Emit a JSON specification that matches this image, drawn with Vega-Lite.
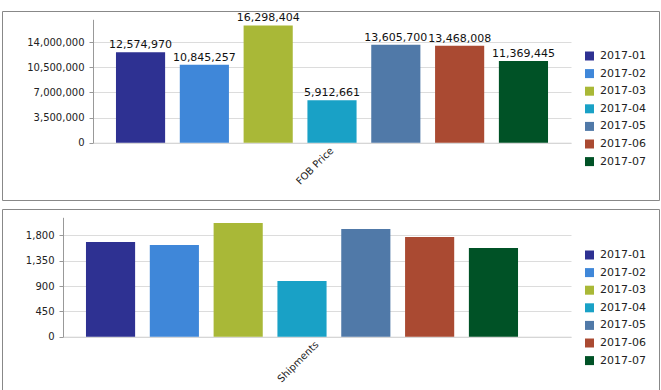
{
  "$schema": "https://vega.github.io/schema/vega-lite/v6.json",
  "padding": {"left": 1, "top": 10, "right": 0, "bottom": 0},
  "spacing": 7,
  "datasets": {
    "fob": [
      {"measure": "FOB Price", "month": "2017-01", "value": 12574970},
      {"measure": "FOB Price", "month": "2017-02", "value": 10845257},
      {"measure": "FOB Price", "month": "2017-03", "value": 16298404},
      {"measure": "FOB Price", "month": "2017-04", "value": 5912661},
      {"measure": "FOB Price", "month": "2017-05", "value": 13605700},
      {"measure": "FOB Price", "month": "2017-06", "value": 13468008},
      {"measure": "FOB Price", "month": "2017-07", "value": 11369445}
    ],
    "ship": [
      {"measure": "Shipments", "month": "2017-01", "value": 1681},
      {"measure": "Shipments", "month": "2017-02", "value": 1628},
      {"measure": "Shipments", "month": "2017-03", "value": 2018},
      {"measure": "Shipments", "month": "2017-04", "value": 989},
      {"measure": "Shipments", "month": "2017-05", "value": 1912},
      {"measure": "Shipments", "month": "2017-06", "value": 1770},
      {"measure": "Shipments", "month": "2017-07", "value": 1575}
    ]
  },
  "vconcat": [
    {
      "width": 657,
      "height": 189,
      "data": {"name": "fob"},
      "encoding": {
        "x": {
          "field": "measure", "type": "nominal",
          "scale": {"range": [91, 569], "paddingInner": 0, "paddingOuter": 0},
          "axis": {"title": null, "ticks": false, "labelAngle": -45, "labelAlign": "right", "labelBaseline": "middle", "labelPadding": 6, "domainColor": "#d4d4d4", "grid": false, "offset": -57.3}
        },
        "xOffset": {
          "field": "month", "type": "nominal",
          "scale": {"paddingInner": 0.23, "paddingOuter": 0.36}
        },
        "y": {
          "field": "value", "type": "quantitative",
          "scale": {"domain": [0, 17160000], "range": [131.7, 8.3], "nice": false, "zero": true},
          "axis": {"title": null, "values": [0, 3500000, 7000000, 10500000, 14000000], "format": ",d", "tickSize": 4, "labelPadding": 5, "offset": -91, "grid": true}
        }
      },
      "layer": [
        {
          "mark": {"type": "bar"},
          "encoding": {
            "color": {
              "field": "month", "type": "nominal",
              "scale": {"range": ["#2e3192", "#3f87d9", "#a9b837", "#19a1c6", "#5079a8", "#aa4a32", "#005226"]},
              "legend": {"orient": "none", "legendX": 582, "legendY": 39.5, "title": null}
            }
          }
        },
        {
          "mark": {"type": "text", "dy": -4, "baseline": "alphabetic", "font": "DejaVu Sans", "fontSize": 11, "color": "#111", "clip": true},
          "encoding": {"text": {"field": "value", "type": "quantitative", "format": ","}}
        }
      ]
    },
    {
      "width": 657,
      "height": 181,
      "data": {"name": "ship"},
      "encoding": {
        "x": {
          "field": "measure", "type": "nominal",
          "scale": {"range": [61, 569], "paddingInner": 0, "paddingOuter": 0},
          "axis": {"title": null, "ticks": false, "labelAngle": -45, "labelAlign": "right", "labelBaseline": "middle", "labelPadding": 6, "domainColor": "#d4d4d4", "grid": false, "offset": -53.3}
        },
        "xOffset": {
          "field": "month", "type": "nominal",
          "scale": {"paddingInner": 0.23, "paddingOuter": 0.37}
        },
        "y": {
          "field": "value", "type": "quantitative",
          "scale": {"domain": [0, 2120], "range": [127.7, 8.3], "nice": false, "zero": true},
          "axis": {"title": null, "values": [0, 450, 900, 1350, 1800], "format": ",d", "tickSize": 4, "labelPadding": 5, "offset": -61, "grid": true}
        }
      },
      "layer": [
        {
          "mark": {"type": "bar"},
          "encoding": {
            "color": {
              "field": "month", "type": "nominal",
              "scale": {"range": ["#2e3192", "#3f87d9", "#a9b837", "#19a1c6", "#5079a8", "#aa4a32", "#005226"]},
              "legend": {"orient": "none", "legendX": 582, "legendY": 40.5, "title": null}
            }
          }
        }
      ]
    }
  ],
  "resolve": {"scale": {"color": "independent"}, "legend": {"color": "independent"}},
  "config": {
    "view": {"stroke": "#888888", "strokeWidth": 1},
    "axis": {"labelFont": "DejaVu Sans", "labelFontSize": 10, "labelColor": "#222222", "domainColor": "#999999", "tickColor": "#999999", "gridColor": "#dcdcdc", "gridWidth": 1},
    "legend": {"symbolType": "square", "symbolSize": 81, "symbolStrokeWidth": 0, "labelFont": "DejaVu Sans", "labelFontSize": 11, "labelColor": "#222222", "labelOffset": 5, "rowPadding": 5.6, "padding": 0}
  }
}
